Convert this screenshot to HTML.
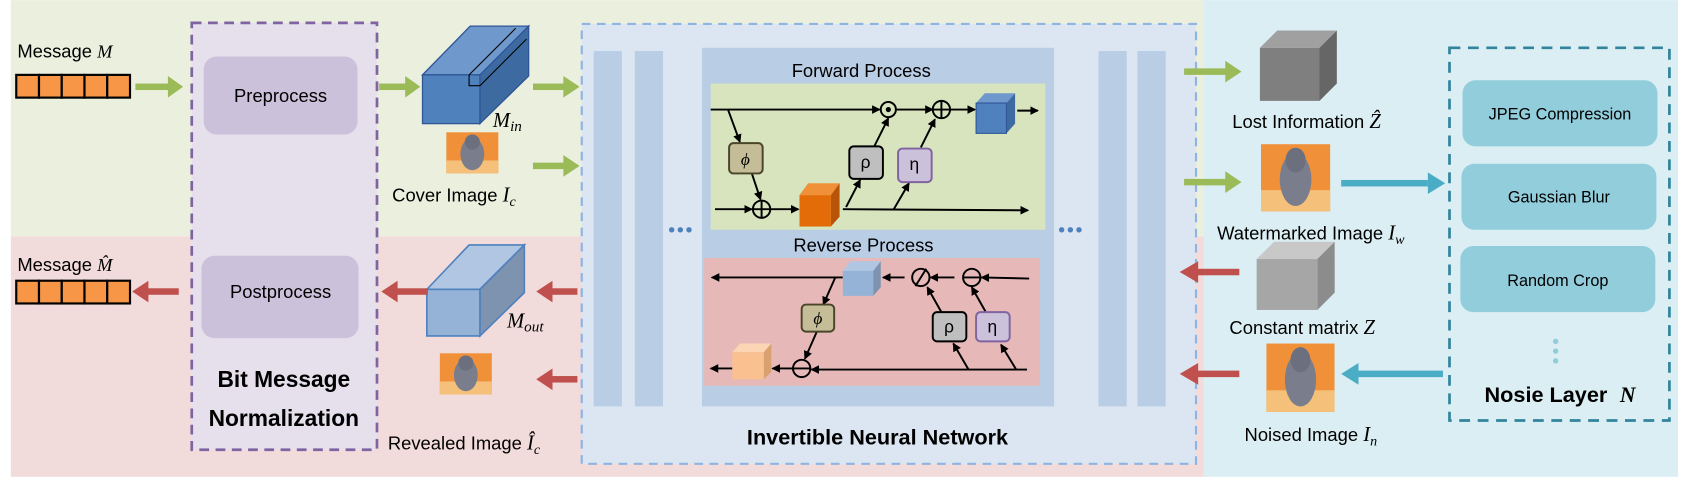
<!DOCTYPE html>
<html><head><meta charset="utf-8"><style>html,body{margin:0;padding:0;background:#fff}svg{display:block}text{font-family:"Liberation Sans",sans-serif}.m{font-family:"Liberation Serif",serif;font-style:italic}</style></head><body>
<svg width="1690" height="478" viewBox="0 0 1560 441" xmlns="http://www.w3.org/2000/svg">
<defs>
<marker id="a" markerWidth="8" markerHeight="8" refX="7" refY="4" orient="auto" markerUnits="userSpaceOnUse"><path d="M0,0 L8,4 L0,8 z" fill="#000"/></marker>
<g id="cat"><rect width="48" height="38" fill="#f0913a"/><rect y="26" width="48" height="12" fill="#f5c07a"/><ellipse cx="24" cy="20" rx="11" ry="15" fill="#7a7e8c"/><circle cx="24" cy="9" r="7" fill="#6c707e"/></g>
</defs>
<rect x="0" y="0" width="1560" height="441" fill="#fff"/>
<rect x="10" y="0" width="1105" height="218" fill="#ebf0de"/>
<rect x="10" y="218" width="1105" height="222" fill="#f2dcdb"/>
<rect x="1111" y="0" width="438" height="440" fill="#dbeef3"/>

<!-- Bit message normalization -->
<rect x="177" y="21" width="171" height="394" fill="#e5e0ec" stroke="#8064a2" stroke-width="2.5" stroke-dasharray="9,6"/>
<rect x="188" y="52" width="142" height="72" rx="12" fill="#ccc1da"/>
<text x="259" y="94" font-size="17" text-anchor="middle">Preprocess</text>
<rect x="186" y="236" width="145" height="76" rx="12" fill="#ccc1da"/>
<text x="259" y="275" font-size="17" text-anchor="middle">Postprocess</text>
<text x="262" y="357" font-size="21" font-weight="bold" text-anchor="middle">Bit Message</text>
<text x="262" y="393" font-size="21" font-weight="bold" text-anchor="middle">Normalization</text>

<!-- messages -->
<text x="16" y="53" font-size="17">Message <tspan class="m">M</tspan></text>
<g fill="#f79646" stroke="#000" stroke-width="2"><rect x="15" y="69" width="21" height="21"/><rect x="36" y="69" width="21" height="21"/><rect x="57" y="69" width="21" height="21"/><rect x="78" y="69" width="21" height="21"/><rect x="99" y="69" width="21" height="21"/></g>
<text x="16" y="250" font-size="17">Message <tspan class="m">M̂</tspan></text>
<g fill="#f79646" stroke="#000" stroke-width="2"><rect x="15" y="259" width="21" height="21"/><rect x="36" y="259" width="21" height="21"/><rect x="57" y="259" width="21" height="21"/><rect x="78" y="259" width="21" height="21"/><rect x="99" y="259" width="21" height="21"/></g>

<!-- M_in cube -->
<polygon points="390,69 434,24 488,24 444,69" fill="#6f98cc" stroke="#2f5597" stroke-width="1.2"/>
<polygon points="443,69 488,24 488,70 443,114" fill="#3d6aa0" stroke="#2f5597" stroke-width="1.2"/>
<rect x="390" y="69" width="53" height="45" fill="#4f81bd" stroke="#2f5597" stroke-width="1.2"/>
<path d="M433,69 L433,79 L443,79 M433,69 L476,26 M443,79 L486,36" fill="none" stroke="#000" stroke-width="1"/>
<text x="455" y="117" font-size="19" class="m">M<tspan font-size="14" dy="4">in</tspan></text>
<use href="#cat" x="412" y="122"/>
<text x="362" y="186" font-size="17">Cover Image <tspan class="m" font-size="19">I</tspan><tspan class="m" font-size="13" dy="4">c</tspan></text>

<!-- M_out cube -->
<polygon points="394,267 433,226 484,226 443,267" fill="#b0c6e2" stroke="#4f81bd" stroke-width="1.5"/>
<polygon points="443,267 484,226 484,270 443,310" fill="#7e93b0" stroke="#4f81bd" stroke-width="1.5"/>
<rect x="394" y="267" width="49" height="43" fill="#95b3d7" stroke="#4f81bd" stroke-width="1.5"/>
<text x="468" y="302" font-size="19" class="m">M<tspan font-size="14" dy="4">out</tspan></text>
<use href="#cat" x="406" y="326"/>
<text x="358" y="415" font-size="17">Revealed Image <tspan class="m" font-size="19">Î</tspan><tspan class="m" font-size="13" dy="4">c</tspan></text>

<!-- INN -->
<rect x="537" y="22" width="567" height="406" fill="#dce6f2" stroke="#8eb4e3" stroke-width="2" stroke-dasharray="8,6"/>
<g fill="#b9cde5"><rect x="548" y="47" width="26" height="328"/><rect x="586" y="47" width="26" height="328"/><rect x="1014" y="47" width="26" height="328"/><rect x="1050" y="47" width="26" height="328"/><rect x="648" y="44" width="325" height="331"/></g>
<g fill="#4f81bd"><circle cx="620" cy="212" r="2.5"/><circle cx="628" cy="212" r="2.5"/><circle cx="636" cy="212" r="2.5"/><circle cx="980" cy="212" r="2.5"/><circle cx="988" cy="212" r="2.5"/><circle cx="996" cy="212" r="2.5"/></g>
<text x="795" y="71" font-size="17" text-anchor="middle">Forward Process</text>
<rect x="656" y="77" width="309" height="135" fill="#d7e4bd"/>
<text x="797" y="232" font-size="17" text-anchor="middle">Reverse Process</text>
<rect x="650" y="238" width="310" height="118" fill="#e6b9b8"/>
<text x="810" y="410" font-size="20" font-weight="bold" text-anchor="middle">Invertible Neural Network</text>

<!-- green arrows -->
<g fill="#9bbb59" stroke="none">
<rect x="125" y="77" width="32" height="6"/><polygon points="155,70 169,80 155,90"/>
<rect x="350" y="77" width="26" height="6"/><polygon points="374,70 388,80 374,90"/>
<rect x="492" y="77" width="30" height="6"/><polygon points="520,70 535,80 520,90"/>
<rect x="492" y="150" width="30" height="6"/><polygon points="520,143 535,153 520,163"/>
<rect x="1093" y="63" width="40" height="6"/><polygon points="1131,56 1146,66 1131,76"/>
<rect x="1093" y="165" width="40" height="6"/><polygon points="1131,158 1146,168 1131,178"/>
</g>
<!-- red arrows -->
<g fill="#c0504d">
<rect x="135" y="266" width="30" height="6"/><polygon points="137,259 122,269 137,279"/>
<rect x="365" y="266" width="30" height="6"/><polygon points="367,259 352,269 367,279"/>
<rect x="510" y="266" width="23" height="6"/><polygon points="510,259 495,269 510,279"/>
<rect x="510" y="347" width="23" height="6"/><polygon points="510,340 495,350 510,360"/>
<rect x="1104" y="248" width="40" height="6"/><polygon points="1106,241 1089,251 1106,261"/>
<rect x="1104" y="342" width="40" height="6"/><polygon points="1106,335 1089,345 1106,355"/>
</g>
<!-- blue arrows -->
<g fill="#4bacc6">
<rect x="1238" y="166" width="80" height="6"/><polygon points="1318,159 1334,169 1318,179"/>
<rect x="1253" y="342" width="79" height="6"/><polygon points="1254,335 1238,345 1254,355"/>
</g>

<!-- forward internals -->
<g stroke="#000" stroke-width="1.8" fill="none">
<line x1="656" y1="101" x2="812" y2="101" marker-end="url(#a)"/>
<circle cx="820" cy="101" r="7"/><circle cx="820" cy="101" r="1.5" fill="#000"/>
<line x1="827" y1="101" x2="861" y2="101" marker-end="url(#a)"/>
<circle cx="869" cy="101" r="8"/><path d="M861,101h16M869,93v16"/>
<line x1="877" y1="101" x2="900" y2="101" marker-end="url(#a)"/>
<line x1="939" y1="102" x2="958" y2="102" marker-end="url(#a)"/>
<line x1="672" y1="101" x2="683" y2="131" marker-end="url(#a)"/>
<line x1="694" y1="160" x2="702" y2="184" marker-end="url(#a)"/>
<line x1="660" y1="193" x2="694" y2="193" marker-end="url(#a)"/>
<circle cx="703" cy="193" r="8"/><path d="M695,193h16M703,185v16"/>
<line x1="711" y1="193" x2="737" y2="193" marker-end="url(#a)"/>
<line x1="778" y1="193" x2="949" y2="194" marker-end="url(#a)"/>
<line x1="781" y1="191" x2="794" y2="166" marker-end="url(#a)"/>
<line x1="807" y1="135" x2="820" y2="109" marker-end="url(#a)"/>
<line x1="825" y1="193" x2="839" y2="169" marker-end="url(#a)"/>
<line x1="850" y1="136" x2="863" y2="110" marker-end="url(#a)"/>
</g>
<rect x="673" y="132" width="31" height="28" rx="4" fill="#c4bd97" stroke="#4a452a" stroke-width="1.8"/>
<text x="688" y="152" font-size="16" text-anchor="middle" class="m">ϕ</text>
<rect x="784" y="135" width="31" height="30" rx="4" fill="#bfbfbf" stroke="#000" stroke-width="1.8"/>
<text x="799" y="155" font-size="16" text-anchor="middle">ρ</text>
<rect x="829" y="137" width="31" height="31" rx="4" fill="#ccc1da" stroke="#8064a2" stroke-width="1.8"/>
<text x="844" y="157" font-size="16" text-anchor="middle">η</text>
<polygon points="901,95 909,86 937,86 929,95" fill="#6f98cc"/><polygon points="929,95 937,86 937,114 929,123" fill="#3d6aa0"/><rect x="901" y="95" width="28" height="28" fill="#4f81bd" stroke="#2f5597"/>
<polygon points="738,180 746,169 775,169 767,180" fill="#f0913a"/><polygon points="767,180 775,169 775,200 767,209" fill="#b85408"/><rect x="738" y="180" width="29" height="29" fill="#e36c09"/>

<!-- reverse internals -->
<g stroke="#000" stroke-width="1.8" fill="none">
<line x1="778" y1="256" x2="657" y2="256" marker-end="url(#a)"/>
<line x1="835" y1="256" x2="815" y2="256" marker-end="url(#a)"/>
<circle cx="850" cy="256" r="8"/><line x1="845" y1="264" x2="855" y2="248"/>
<line x1="881" y1="256" x2="859" y2="256" marker-end="url(#a)"/>
<circle cx="897" cy="256" r="8"/><line x1="889" y1="256" x2="905" y2="256"/>
<line x1="950" y1="257" x2="906" y2="256" marker-end="url(#a)"/>
<line x1="771" y1="256" x2="760" y2="281" marker-end="url(#a)"/>
<line x1="754" y1="306" x2="743" y2="331" marker-end="url(#a)"/>
<circle cx="740" cy="340" r="8"/><line x1="732" y1="340" x2="748" y2="340"/>
<line x1="948" y1="341" x2="749" y2="341" marker-end="url(#a)"/>
<line x1="732" y1="340" x2="713" y2="340" marker-end="url(#a)"/>
<line x1="676" y1="340" x2="656" y2="340" marker-end="url(#a)"/>
<line x1="894" y1="341" x2="880" y2="317" marker-end="url(#a)"/>
<line x1="938" y1="341" x2="924" y2="318" marker-end="url(#a)"/>
<line x1="869" y1="288" x2="856" y2="265" marker-end="url(#a)"/>
<line x1="910" y1="288" x2="897" y2="265" marker-end="url(#a)"/>
</g>
<rect x="740" y="281" width="30" height="25" rx="4" fill="#c4bd97" stroke="#4a452a" stroke-width="1.8"/>
<text x="755" y="299" font-size="16" text-anchor="middle" class="m">ϕ</text>
<rect x="861" y="288" width="31" height="27" rx="4" fill="#bfbfbf" stroke="#000" stroke-width="1.8"/>
<text x="876" y="307" font-size="16" text-anchor="middle">ρ</text>
<rect x="901" y="288" width="31" height="27" rx="4" fill="#ccc1da" stroke="#8064a2" stroke-width="1.8"/>
<text x="916" y="307" font-size="16" text-anchor="middle">η</text>
<polygon points="778,250 785,241 813,241 806,250" fill="#b0c6e2"/><polygon points="806,250 813,241 813,265 806,273" fill="#7e93b0"/><rect x="778" y="250" width="28" height="23" fill="#95b3d7"/>
<polygon points="676,325 683,317 712,317 705,325" fill="#fcd5b4"/><polygon points="705,325 712,317 712,343 705,350" fill="#d9a070"/><rect x="676" y="325" width="29" height="25" fill="#fac090"/>

<!-- right side -->
<polygon points="1163,44 1179,28 1234,28 1218,44" fill="#a0a0a0"/><polygon points="1218,44 1234,28 1234,77 1218,93" fill="#666"/><rect x="1163" y="44" width="55" height="49" fill="#7f7f7f"/>
<text x="1206" y="118" font-size="17" text-anchor="middle">Lost Information <tspan class="m" font-size="19">Ẑ</tspan></text>
<use href="#cat" transform="translate(1164,133) scale(1.33,1.63)"/>
<text x="1210" y="221" font-size="17" text-anchor="middle">Watermarked Image <tspan class="m" font-size="19">I</tspan><tspan class="m" font-size="13" dy="4">w</tspan></text>
<polygon points="1160,239 1176,223 1232,223 1216,239" fill="#c8c8c8"/><polygon points="1216,239 1232,223 1232,270 1216,286" fill="#8c8c8c"/><rect x="1160" y="239" width="56" height="47" fill="#a6a6a6"/>
<text x="1202" y="308" font-size="17" text-anchor="middle">Constant matrix <tspan class="m" font-size="19">Z</tspan></text>
<use href="#cat" transform="translate(1169,317) scale(1.31,1.66)"/>
<text x="1210" y="407" font-size="17" text-anchor="middle">Noised Image <tspan class="m" font-size="19">I</tspan><tspan class="m" font-size="13" dy="4">n</tspan></text>

<rect x="1338" y="44" width="203" height="344" fill="none" stroke="#31849b" stroke-width="2.5" stroke-dasharray="10,7"/>
<rect x="1350" y="74" width="180" height="61" rx="12" fill="#92cddc"/>
<text x="1440" y="110" font-size="15" text-anchor="middle">JPEG Compression</text>
<rect x="1349" y="151" width="180" height="61" rx="12" fill="#92cddc"/>
<text x="1439" y="187" font-size="15" text-anchor="middle">Gaussian Blur</text>
<rect x="1348" y="227" width="180" height="61" rx="12" fill="#92cddc"/>
<text x="1438" y="264" font-size="15" text-anchor="middle">Random Crop</text>
<g fill="#92cddc"><circle cx="1436" cy="315" r="2.5"/><circle cx="1436" cy="324" r="2.5"/><circle cx="1436" cy="333" r="2.5"/></g>
<text x="1440" y="371" font-size="20" font-weight="bold" text-anchor="middle">Nosie Layer <tspan class="m" dx="6">N</tspan></text>
</svg>
</body></html>
